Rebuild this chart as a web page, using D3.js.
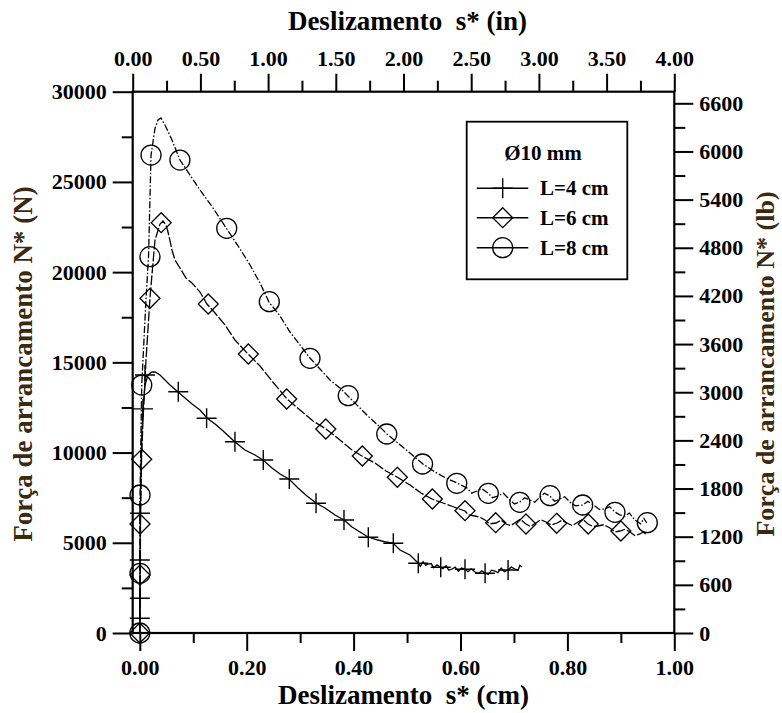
<!DOCTYPE html>
<html><head><meta charset="utf-8">
<script src="https://cdn.jsdelivr.net/npm/d3@7"></script>
<style>
html,body{margin:0;padding:0;background:#fff;}
svg{display:block;font-family:"Liberation Serif","Times New Roman",serif;font-weight:bold;}
</style></head>
<body>
<svg id="chart" width="782" height="713"></svg>
<script>
// ---------- data ----------
const legendTitle = "Ø10 mm";
const seriesLabels = ["L=4 cm", "L=6 cm", "L=8 cm"];

// L = 4 cm : slip (cm) and pull-out force (N)
const L4_s = [0,0.0002,0.0003,0.0004,0.0009,0.0022,0.0041,0.006,0.0097,0.0153,0.0228,0.0284,0.0378,0.0471,0.0565,0.0715,0.0846,0.0977,0.1126,0.1257,0.1407,0.1538,0.1781,0.1968,0.2155,0.2305,0.2473,0.2623,0.2791,0.2960,0.3128,0.3297,0.3465,0.3652,0.3821,0.3970,0.4120,0.4270,0.4457,0.4606,0.4737,0.4868,0.5055,0.5205,0.525,0.530,0.535,0.5392,0.545,0.550,0.556,0.5617,0.567,0.573,0.578,0.5841,0.590,0.596,0.602,0.6084,0.614,0.620,0.6271,0.633,0.640,0.6458,0.652,0.658,0.6645,0.670,0.676,0.682,0.6888,0.695,0.7019,0.708,0.711,0.7150];
const L4_N = [0,831,1940,4156,6650,9033,11250,12414,13744,14298,14465,14465,14298,14021,13744,13356,13024,12691,12359,11915,11583,11250,10585,10142,9865,9588,9144,8812,8535,8036,7593,7205,6928,6540,6262,5875,5597,5320,5154,5043,4988,4600,4323,3879,3700,3950,3750,3824,3850,3620,3780,3658,3560,3720,3480,3547,3650,3420,3600,3547,3400,3560,3381,3300,3450,3325,3250,3480,3436,3350,3600,3400,3491,3650,3547,3480,3750,3658];
const L4_mark_s = [0,0,0,0.0004,0.006,0.0097,0.072,0.125,0.178,0.231,0.2797,0.3297,0.382,0.4275,0.4743,0.521,0.563,0.6084,0.646,0.689];
const L4_mark_N = [815,1923,4046,6634,12420,14298,13373,11899,10602,9588,8535,7188,6262,5304,4971,3863,3641,3530,3309,3491];

// L = 6 cm
const L6_s = [0,0.0005,0.001,0.0013,0.0032,0.006,0.0116,0.019,0.0284,0.0378,0.0434,0.0490,0.0528,0.0602,0.0658,0.0752,0.0864,0.0976,0.1126,0.1257,0.1407,0.1594,0.1781,0.2024,0.2249,0.2473,0.2754,0.2997,0.3240,0.3483,0.3745,0.3970,0.4157,0.4400,0.4606,0.4812,0.5055,0.5261,0.5467,0.5672,0.5878,0.6084,0.615,0.6271,0.636,0.6458,0.655,0.6664,0.676,0.6851,0.694,0.7038,0.712,0.7225,0.731,0.7412,0.750,0.7599,0.770,0.7805,0.790,0.7992,0.809,0.8198,0.829,0.8385,0.848,0.8572,0.868,0.8796,0.889,0.8983,0.908,0.9170,0.926,0.9357,0.942,0.9488];
const L6_N = [0,1800,3200,6041,9644,11804,15129,18565,21780,22666,22832,22611,22223,21226,20672,20228,19674,19397,18898,18233,17734,17069,16238,15462,14797,13966,12968,12359,11749,11306,10696,10142,9809,9421,8978,8646,8202,7759,7426,7205,6983,6761,6550,6484,6420,6262,6050,6096,6250,6041,5950,6152,6300,6041,5900,6096,6280,6152,5980,6096,6250,6096,5950,6152,6300,6041,5900,5930,6000,5819,5600,5653,5750,5597,5400,5487,5600,5431];
const L6_mark_s = [0,0.0004,0.0004,0.0035,0.019,0.040,0.128,0.203,0.2748,0.348,0.4163,0.4818,0.5473,0.6084,0.6658,0.7225,0.780,0.839,0.900];
const L6_mark_N = [0,3214,6041,9627,18549,22740,18233,15462,12968,11306,9809,8629,7426,6778,6113,6041,6080,6041,5653];

// L = 8 cm
const L8_s = [0,0.0004,0.0004,0.0036,0.0116,0.0163,0.021,0.0284,0.0340,0.0396,0.0471,0.0602,0.0752,0.0939,0.1127,0.1370,0.1626,0.1875,0.2062,0.2249,0.2417,0.2623,0.2810,0.2997,0.3184,0.3371,0.3558,0.3745,0.3895,0.4119,0.4306,0.4493,0.4624,0.4830,0.5054,0.5297,0.5522,0.5728,0.5933,0.6120,0.621,0.6307,0.640,0.6513,0.660,0.6700,0.680,0.6924,0.701,0.7111,0.720,0.7298,0.739,0.7485,0.757,0.7672,0.776,0.7859,0.795,0.8046,0.815,0.8289,0.838,0.8514,0.860,0.8701,0.879,0.8888,0.898,0.9075,0.916,0.9262,0.937,0.943,0.9486];
const L8_N = [0,3309,7648,13743,18510,20855,26490,27960,28430,28540,28153,27322,26213,25382,24551,23553,22399,21291,20394,19397,18342,17568,16681,15961,15241,14631,14022,13578,13135,12470,11916,11417,11029,10530,9976,9366,8923,8590,8313,8036,7750,7870,8000,7759,7500,7593,7750,7371,7150,7260,7500,7371,7250,7537,7750,7593,7300,7426,7550,7260,7050,7094,7300,7038,6850,6872,7000,6706,6550,6484,6650,6262,6050,6350,6096];
const L8_mark_s = [0,0.0004,0.0004,0.0036,0.019,0.021,0.075,0.1626,0.2423,0.3184,0.390,0.462,0.529,0.593,0.652,0.711,0.7675,0.8286,0.889,0.9495];
const L8_mark_N = [0,3309,7648,13743,20855,26490,26213,22428,18361,15224,13151,11029,9366,8296,7742,7243,7609,7094,6689,6113];

const cmTicks = [0,0.2,0.4,0.6,0.8,1.0];
const cmMinor = [0.1,0.3,0.5,0.7,0.9];
const inTicks = [0,0.5,1,1.5,2,2.5,3,3.5,4];
const inMinor = [0.25,0.75,1.25,1.75,2.25,2.75,3.25,3.75];
const NTicks = [0,5000,10000,15000,20000,25000,30000];
const NMinor = [2500,7500,12500,17500,22500,27500];
const lbTicks = [0,600,1200,1800,2400,3000,3600,4200,4800,5400,6000,6600];
const lbMinor = [300,900,1500,2100,2700,3300,3900,4500,5100,5700,6300];
const N_PER_LB = 4.448;

// ---------- drawing ----------
const svg = d3.select("#chart");
const L = 132.7, R = 674.3, T = 91.7, B = 633;

const x = d3.scaleLinear().domain([-0.0133, 1]).range([L, R]);
const xTop = d3.scaleLinear().domain([0, 4]).range([L, R]);
const y = d3.scaleLinear().domain([0, 30000]).range([B, T]);
const yR = d3.scaleLinear().domain([0, 30000 / N_PER_LB]).range([B, T]);

const fmt2 = d3.format(".2f");
function styleAxis(g){
  g.select(".domain").remove();
  g.selectAll("line").attr("stroke","#000").attr("stroke-width",2);
  g.selectAll("text").attr("font-family","Liberation Serif, serif").attr("font-weight","bold")
    .attr("font-size",22).attr("fill","#000");
}
// bottom
svg.append("g").attr("transform",`translate(0,${B})`)
  .call(d3.axisBottom(x).tickValues(cmTicks).tickFormat(fmt2).tickSize(18).tickPadding(8)).call(styleAxis);
svg.append("g").attr("transform",`translate(0,${B})`)
  .call(d3.axisBottom(x).tickValues(cmMinor).tickFormat("").tickSize(10)).call(styleAxis);
// top
svg.append("g").attr("transform",`translate(0,${T})`)
  .call(d3.axisTop(xTop).tickValues(inTicks).tickFormat(fmt2).tickSize(18).tickPadding(8)).call(styleAxis);
svg.append("g").attr("transform",`translate(0,${T})`)
  .call(d3.axisTop(xTop).tickValues(inMinor).tickFormat("").tickSize(11)).call(styleAxis);
// left
svg.append("g").attr("transform",`translate(${L},0)`)
  .call(d3.axisLeft(y).tickValues(NTicks).tickFormat(d3.format("d")).tickSize(20).tickPadding(6)).call(styleAxis);
svg.append("g").attr("transform",`translate(${L},0)`)
  .call(d3.axisLeft(y).tickValues(NMinor).tickFormat("").tickSize(11)).call(styleAxis);
// right
svg.append("g").attr("transform",`translate(${R},0)`)
  .call(d3.axisRight(yR).tickValues(lbTicks).tickFormat(d3.format("d")).tickSize(19).tickPadding(6)).call(styleAxis);
svg.append("g").attr("transform",`translate(${R},0)`)
  .call(d3.axisRight(yR).tickValues(lbMinor).tickFormat("").tickSize(11)).call(styleAxis);

// frame
svg.append("rect").attr("x",L).attr("y",T).attr("width",R-L).attr("height",B-T)
  .attr("fill","none").attr("stroke","#000").attr("stroke-width",2.2);

// axis titles
const titleColor = "#3a2a10";
svg.append("text").attr("x",(L+R)/2).attr("y",704).attr("text-anchor","middle")
  .attr("font-size",27).attr("fill","#000").style("white-space","pre").text("Deslizamento  s* (cm)");
svg.append("text").attr("x",(L+R)/2 + 4).attr("y",30).attr("text-anchor","middle")
  .attr("font-size",27).attr("fill","#000").style("white-space","pre").text("Deslizamento  s* (in)");
svg.append("text").attr("transform","translate(32,364) rotate(-90)").attr("text-anchor","middle")
  .attr("font-size",27).attr("fill",titleColor).text("Força de arrancamento N* (N)");
svg.append("text").attr("transform","translate(774,364) rotate(-90)").attr("text-anchor","middle")
  .attr("font-size",26).attr("fill",titleColor).text("Força de arrancamento N* (lb)");

// curves
const line = d3.line().x(d => x(d[0])).y(d => y(d[1]));
const zip = (a,b) => a.map((v,i) => [v, b[i]]);
const curves = [
  {s:L4_s, N:L4_N, ms:L4_mark_s, mN:L4_mark_N, dash:null, sym:"plus"},
  {s:L6_s, N:L6_N, ms:L6_mark_s, mN:L6_mark_N, dash:"10,2", sym:"diamond"},
  {s:L8_s, N:L8_N, ms:L8_mark_s, mN:L8_mark_N, dash:"7,2,1.5,2", sym:"circle"}
];
function drawSym(g, sym, cx, cy){
  if(sym==="plus"){
    g.append("path").attr("d",`M${cx-10},${cy}H${cx+10}M${cx},${cy-10}V${cy+10}`)
      .attr("stroke","#000").attr("stroke-width",1.4).attr("fill","none");
  } else if(sym==="diamond"){
    g.append("path").attr("d",`M${cx},${cy-10}L${cx+10},${cy}L${cx},${cy+10}L${cx-10},${cy}Z`)
      .attr("stroke","#000").attr("stroke-width",1.3).attr("fill","none");
  } else {
    g.append("circle").attr("cx",cx).attr("cy",cy).attr("r",10)
      .attr("stroke","#000").attr("stroke-width",1.3).attr("fill","none");
  }
}
const plot = svg.append("g");
curves.forEach(c => {
  plot.append("path").datum(zip(c.s,c.N)).attr("d",line)
    .attr("fill","none").attr("stroke","#000").attr("stroke-width",1.3)
    .attr("stroke-dasharray",c.dash);
  const mg = plot.append("g");
  zip(c.ms,c.mN).forEach(p => drawSym(mg, c.sym, x(p[0]), y(p[1])));
});

// legend
const lg = svg.append("g");
lg.append("rect").attr("x",466.7).attr("y",121.7).attr("width",160.6).attr("height",157.6)
  .attr("fill","#fff").attr("stroke","#000").attr("stroke-width",1.8);
lg.append("text").attr("x",543).attr("y",160).attr("text-anchor","middle")
  .attr("font-size",21).attr("fill","#000").text(legendTitle);
const legY = [188.3, 217.7, 247.7];
seriesLabels.forEach((lab,i) => {
  lg.append("line").attr("x1",476.7).attr("x2",528.3).attr("y1",legY[i]).attr("y2",legY[i])
    .attr("stroke","#000").attr("stroke-width",1.5);
  drawSym(lg, curves[i].sym, 502.7, legY[i]);
  lg.append("text").attr("x",540).attr("y",legY[i]+7).attr("font-size",21).attr("fill","#000").text(lab);
});
</script>
</body></html>
